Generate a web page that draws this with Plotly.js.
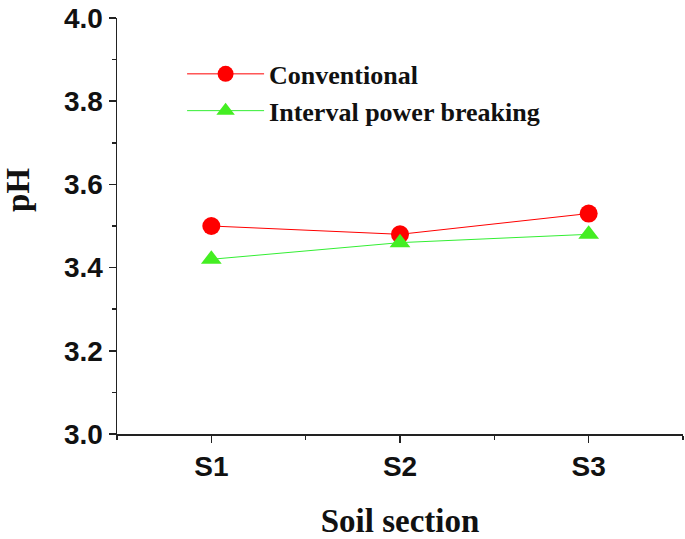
<!DOCTYPE html>
<html>
<head>
<meta charset="utf-8">
<script src="https://cdn.plot.ly/plotly-3.0.1.min.js"></script>
<style>html,body{margin:0;padding:0;background:#fff;}#chart{width:685px;height:539px;}</style>
</head>
<body>
<div id="chart"></div>
<script>
const categories = ["S1", "S2", "S3"];
const conventional = [3.50, 3.48, 3.53];
const intervalPower = [3.42, 3.46, 3.48];
const seriesNames = ["Conventional", "Interval power breaking"];
const yTickVals = [3.0, 3.2, 3.4, 3.6, 3.8, 4.0];
const yTickText = ["3.0", "3.2", "3.4", "3.6", "3.8", "4.0"];
const xTitle = "Soil section";
const yTitle = "pH";

const xPos = categories.map((c, i) => i + 1);

const traces = [
  {
    x: xPos, y: conventional, name: seriesNames[0],
    type: "scatter", mode: "lines+markers",
    line: {color: "#ff0000", width: 1},
    marker: {symbol: "circle", size: 18, color: "#ff0000"}
  },
  {
    x: xPos, y: intervalPower, name: seriesNames[1],
    type: "scatter", mode: "lines+markers",
    line: {color: "#33ee33", width: 1},
    marker: {symbol: "triangle-up", size: 18, color: "#44ee22"}
  }
];

const axisFont = {family: "Liberation Sans, Arial, sans-serif", size: 28, color: "#111", weight: "bold"};
const titleFont = {family: "Liberation Serif, Times New Roman, serif", size: 33, color: "#111", weight: "bold"};

const layout = {
  width: 685, height: 539,
  margin: {l: 117, r: 2, t: 18, b: 105},
  paper_bgcolor: "#fff", plot_bgcolor: "#fff",
  showlegend: true,
  legend: {
    x: 0.115, y: 0.922, xanchor: "left", yanchor: "top",
    bgcolor: "rgba(0,0,0,0)",
    font: {family: "Liberation Serif, Times New Roman, serif", size: 26, color: "#111", weight: "bold"},
    itemwidth: 77, tracegroupgap: 0
  },
  xaxis: {
    range: [0.5, 3.5],
    tickmode: "array", tickvals: xPos, ticktext: categories,
    showline: true, linecolor: "#222", linewidth: 1.5,
    ticks: "outside", ticklen: 7, tickwidth: 1.5, tickcolor: "#222",
    minor: {ticks: "outside", ticklen: 4, tickwidth: 1.5, tickcolor: "#222", tickmode: "array", tickvals: [0.5, 1.5, 2.5, 3.5]},
    showgrid: false, zeroline: false,
    tickfont: axisFont,
    title: {text: xTitle, font: titleFont, standoff: 28}
  },
  yaxis: {
    range: [3.0, 4.0],
    tickmode: "array", tickvals: yTickVals, ticktext: yTickText,
    showline: true, linecolor: "#222", linewidth: 1.5,
    ticks: "outside", ticklen: 7, tickwidth: 1.5, tickcolor: "#222",
    minor: {ticks: "outside", ticklen: 4, tickwidth: 1.5, tickcolor: "#222", dtick: 0.1},
    showgrid: false, zeroline: false,
    tickfont: axisFont
  },
  annotations: [{
    text: yTitle, textangle: -90, showarrow: false,
    xref: "paper", yref: "paper", x: -0.175, y: 0.5865,
    xanchor: "center", yanchor: "middle",
    font: titleFont
  }]
};

Plotly.newPlot("chart", traces, layout, {displayModeBar: false, staticPlot: true});
</script>
</body>
</html>
